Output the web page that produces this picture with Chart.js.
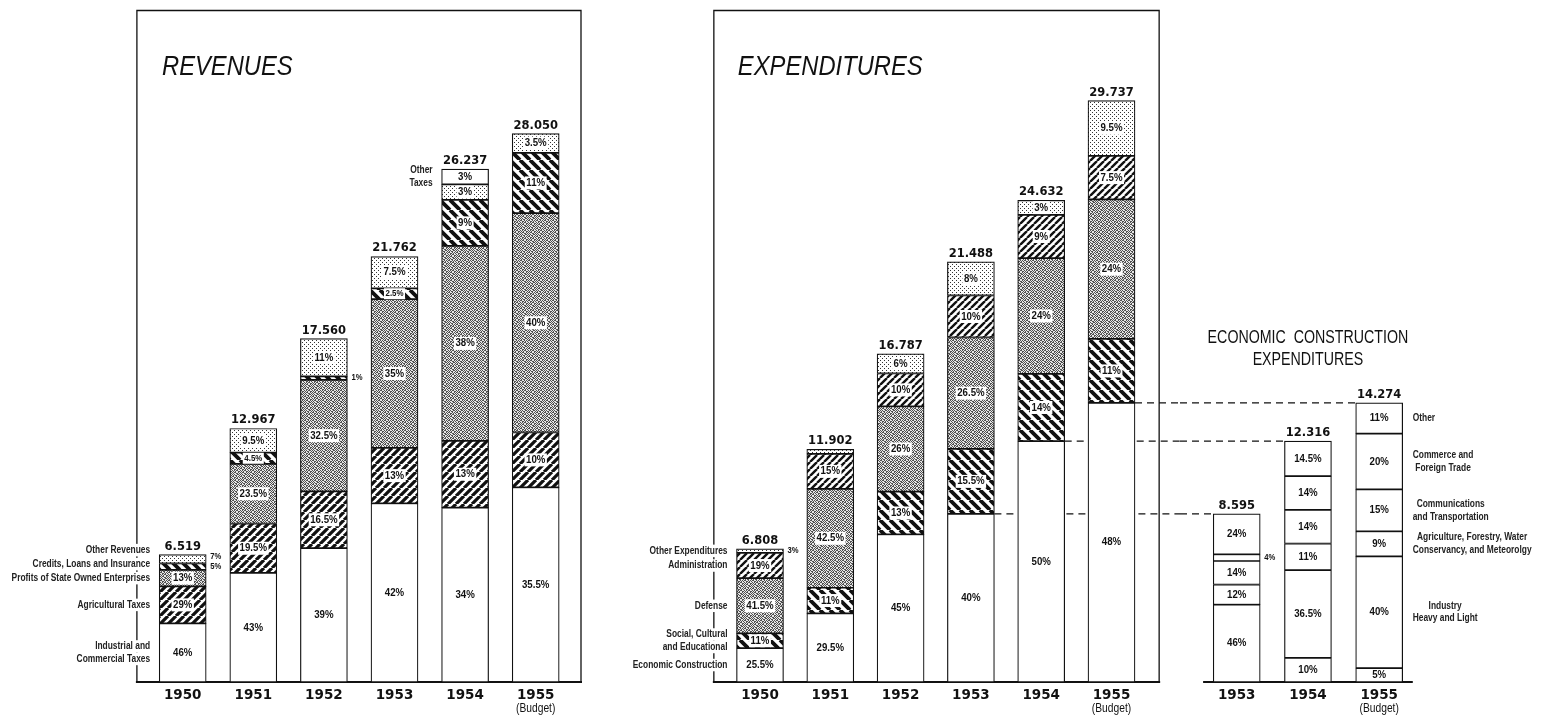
<!DOCTYPE html>
<html>
<head>
<meta charset="utf-8">
<script src="https://cdn.jsdelivr.net/npm/chart.js@4.4.1/dist/chart.umd.min.js"></script>
<style>
  body { margin: 0; background: #fff; width: 1549px; height: 719px; overflow: hidden; position: relative; }
  canvas { position: absolute; top: 0; }
</style>
</head>
<body>
<canvas id="revChart" width="600" height="719" style="left:0"></canvas>
<canvas id="expChart" width="580" height="719" style="left:600px"></canvas>
<canvas id="econChart" width="369" height="719" style="left:1180px"></canvas>
<script>
// Revenues (billion yuan) and shares in percent, bottom to top
const revYears = ['1950', '1951', '1952', '1953', '1954', '1955'];
const revNotes = ['', '', '', '', '', '(Budget)'];
const revTotals = [6.519, 12.967, 17.560, 21.762, 26.237, 28.050];
const revIndustrial = [46, 43.0, 39, 42, 34, 35.5];
const revAgricultural = [29, 19.5, 16.5, 13, 13, 10];
const revProfits = [13, 23.5, 32.5, 35, 38, 40];
const revCredits = [5, 4.5, 1, 2.5, 9, 11];
const revOther = [7, 9.5, 11, 7.5, 3, 3.5];
const revOtherTaxes = [null, null, null, null, 3, null];

// Expenditures
const expYears = ['1950', '1951', '1952', '1953', '1954', '1955'];
const expNotes = ['', '', '', '', '', '(Budget)'];
const expTotals = [6.808, 11.902, 16.787, 21.488, 24.632, 29.737];
const expEconomic = [25.5, 29.5, 45, 40, 50, 48];
const expSocial = [11, 11, 13, 15.5, 14, 11];
const expDefense = [41.5, 42.5, 26, 26.5, 24, 24];
const expAdmin = [19, 15, 10, 10, 9, 7.5];
const expOther = [3, 2, 6, 8, 3, 9.5];

// Economic construction expenditures
const econYears = ['1953', '1954', '1955'];
const econNotes = ['', '', '(Budget)'];
const econTotals = [8.595, 12.316, 14.274];
const econBase = [null, 10, 5];
const econIndustry = [46, 36.5, 40];
const econAgriculture = [12, 11, 9];
const econCommunications = [14, 14, 15];
const econCommerce = [4, 14, 20];
const econOtherShare = [24, 14.5, 11];

const Y_MAX = 34.37;
const COND = '"Liberation Sans", Arial, sans-serif';
const WIDE = '"DejaVu Sans", sans-serif';

// fill patterns
function pattern(w, h, draw) {
  const c = document.createElement('canvas');
  c.width = w; c.height = h;
  const g = c.getContext('2d');
  g.fillStyle = '#fff';
  g.fillRect(0, 0, w, h);
  draw(g, w, h);
  return g.createPattern(c, 'repeat');
}
const hatch = (size, lw, back) => pattern(size, size, (g, s) => {
  g.strokeStyle = '#111';
  g.lineWidth = lw;
  g.beginPath();
  for (let k = -1; k <= 1; k++) {
    if (back) { g.moveTo(k * s, 0); g.lineTo(k * s + s, s); }
    else { g.moveTo(k * s, s); g.lineTo(k * s + s, 0); }
  }
  g.stroke();
});
const GREY_BITS = ['10110010', '01001101', '10100110', '01011001',
                   '11001010', '00110101', '10101100', '01010011'];
const GREY = pattern(8, 8, g => {
  g.fillStyle = '#e6e6e6'; g.fillRect(0, 0, 8, 8);
  g.fillStyle = '#505050';
  GREY_BITS.forEach((row, y) => [...row].forEach((b, x) => { if (b === '1') g.fillRect(x, y, 1, 1); }));
});
const DOTS = pattern(4, 4, g => {
  g.fillStyle = '#333';
  g.fillRect(0, 0, 1, 1);
  g.fillRect(2, 2, 1, 1);
});
const WHITE = '#ffffff';
const HEAVY_SLASH = hatch(8, 3.2, false);
const HEAVY_BACK = hatch(10, 3.8, true);
const LIGHT_SLASH = hatch(7, 2.4, false);

function drawText(ctx, text, x, y, o) {
  ctx.save();
  ctx.font = o.font;
  ctx.textBaseline = 'middle';
  ctx.textAlign = 'left';
  const sx = o.sx || 1;
  const w = ctx.measureText(text).width * sx;
  const left = o.align === 'right' ? x - w : o.align === 'center' ? x - w / 2 : x;
  if (o.box) {
    ctx.fillStyle = '#fff';
    ctx.fillRect(left - 1.5, y - o.size / 2 - 1, w + 3, o.size + 2);
  }
  ctx.fillStyle = o.color || '#111';
  ctx.translate(left, y);
  ctx.scale(sx, 1);
  ctx.fillText(text, 0, 0);
  ctx.restore();
  return w;
}

function stackSets(totals, series) {
  return series.map(s => ({
    label: s.name,
    data: totals.map((t, i) => s.pct[i] == null ? null : t * s.pct[i] / 100),
    pct: s.pct,
    tag: s.tag,
    hide: s.hide || [],
    boxed: s.fill !== WHITE,
    backgroundColor: s.fill,
    borderColor: '#111',
    borderWidth: 1.2,
    borderSkipped: false,
    barThickness: 47
  }));
}

function paperPlugin(cfg) {
  return {
    id: 'paper',
    beforeDatasetsDraw(chart) {
      const ctx = chart.ctx, a = chart.chartArea;
      ctx.save();
      ctx.strokeStyle = '#111';
      let axL = a.left + 2, axR = a.right - 2;
      if (cfg.frame) {
        const fl = a.left - cfg.frame.left, fr = a.right + cfg.frame.right, ft = cfg.frame.top;
        ctx.lineWidth = 1.3;
        ctx.beginPath();
        ctx.moveTo(fl, a.bottom); ctx.lineTo(fl, ft); ctx.lineTo(fr, ft); ctx.lineTo(fr, a.bottom);
        ctx.stroke();
        axL = fl - 1; axR = fr + 1;
      }
      ctx.lineWidth = 2.2;
      ctx.beginPath();
      ctx.moveTo(axL, a.bottom); ctx.lineTo(axR, a.bottom);
      ctx.stroke();
      if (cfg.links) {
        const meta = chart.getDatasetMeta(0);
        ctx.lineWidth = 1.2;
        ctx.setLineDash([7, 5]);
        cfg.links.indices.forEach((i, k) => {
          const el = meta.data[i];
          const yy = chart.scales.y.getPixelForValue(cfg.links.values[k]);
          const x0 = cfg.links.toRight ? el.x + el.width / 2 : 0;
          const x1 = cfg.links.toRight ? chart.width : el.x - el.width / 2;
          ctx.beginPath(); ctx.moveTo(x0, yy); ctx.lineTo(x1, yy); ctx.stroke();
        });
      }
      ctx.restore();
    },
    afterDatasetsDraw(chart) {
      const ctx = chart.ctx, a = chart.chartArea;
      const xs = chart.scales.x, ys = chart.scales.y;
      const outsideY = chart.data.labels.map(() => Infinity);
      const lastTag = {};
      chart.data.datasets.forEach((ds, d) => {
        const meta = chart.getDatasetMeta(d);
        meta.data.forEach((el, i) => {
          const p = ds.pct[i];
          if (p == null || ds.hide.includes(i)) return;
          const h = el.base - el.y;
          const cy = (el.y + el.base) / 2;
          if (h >= 10) {
            const size = h < 13 ? 9 : 11;
            drawText(ctx, p + '%', el.x, cy, { font: 'bold ' + size + 'px ' + COND, size, sx: 0.88, align: 'center', box: ds.boxed });
          } else {
            const yy = Math.min(cy, outsideY[i] - 10);
            outsideY[i] = yy;
            drawText(ctx, p + '%', el.x + el.width / 2 + 4, yy, { font: 'bold 8.5px ' + COND, size: 8.5, sx: 0.9, align: 'left' });
          }
        });
        if (ds.tag) {
          const t = ds.tag, el = meta.data[t.at];
          const key = t.side + t.at;
          const prev = lastTag[key];
          let y = (el.y + el.base) / 2;
          if (prev) y = Math.min(y, prev.y - 14 - 6.25 * (prev.n - 1) - 6.25 * (t.lines.length - 1));
          lastTag[key] = { y, n: t.lines.length };
          const font = 'bold 10.5px ' + COND;
          ctx.font = font;
          const widths = t.lines.map(s => ctx.measureText(s).width * 0.8);
          const maxW = Math.max(...widths);
          t.lines.forEach((s, k) => {
            const ly = y + (k - (t.lines.length - 1) / 2) * 12.5;
            if (t.side === 'left') {
              drawText(ctx, s, el.x - el.width / 2 - 9, ly, { font, size: 10.5, sx: 0.8, align: 'right', box: true, color: '#222' });
            } else {
              drawText(ctx, s, el.x + el.width / 2 + 10 + maxW / 2, ly, { font, size: 10.5, sx: 0.8, align: 'center', color: '#222' });
            }
          });
        }
      });
      // totals above bars
      cfg.totals.forEach((v, i) => {
        const top = ys.getPixelForValue(v);
        drawText(ctx, v.toFixed(3), xs.getPixelForValue(i), top - 8, { font: 'bold 11.5px ' + WIDE, size: 11.5, align: 'center' });
      });
      // notes under tick labels
      cfg.notes.forEach((s, i) => {
        if (s) drawText(ctx, s, xs.getPixelForValue(i), a.bottom + 27, { font: '12.5px ' + COND, size: 12.5, sx: 0.82, align: 'center' });
      });
      // title
      const tt = cfg.title;
      tt.lines.forEach((s, k) => {
        const x = tt.center ? (a.left + a.right) / 2 : a.left + tt.dx;
        drawText(ctx, s, x, tt.y + k * tt.lh, { font: tt.font, size: 20, sx: tt.sx, align: tt.center ? 'center' : 'left' });
      });
    }
  };
}

function makeChart(id, labels, totals, series, pad, cfg) {
  return new Chart(document.getElementById(id), {
    type: 'bar',
    data: { labels, datasets: stackSets(totals, series) },
    options: {
      responsive: false,
      animation: false,
      devicePixelRatio: 1,
      layout: { padding: { left: pad[0], right: pad[1], top: 10, bottom: 0 } },
      plugins: { legend: { display: false }, tooltip: { enabled: false } },
      scales: {
        x: {
          stacked: true,
          offset: true,
          grid: { display: false, drawTicks: false },
          border: { display: false },
          ticks: { color: '#111', font: { family: WIDE, size: 13.5, weight: 'bold' }, padding: 5, maxRotation: 0, autoSkip: false },
          afterFit: s => { s.height = 37; }
        },
        y: { stacked: true, display: false, min: 0, max: Y_MAX }
      }
    },
    plugins: [paperPlugin(Object.assign({ totals }, cfg))]
  });
}

makeChart('revChart', revYears, revTotals, [
  { name: 'Industrial and Commercial Taxes', pct: revIndustrial, fill: WHITE, tag: { at: 0, side: 'left', lines: ['Industrial and', 'Commercial Taxes'] } },
  { name: 'Agricultural Taxes', pct: revAgricultural, fill: HEAVY_SLASH, tag: { at: 0, side: 'left', lines: ['Agricultural Taxes'] } },
  { name: 'Profits of State Owned Enterprises', pct: revProfits, fill: GREY, tag: { at: 0, side: 'left', lines: ['Profits of State Owned Enterprises'] } },
  { name: 'Credits, Loans and Insurance', pct: revCredits, fill: HEAVY_BACK, tag: { at: 0, side: 'left', lines: ['Credits, Loans and Insurance'] } },
  { name: 'Other Revenues', pct: revOther, fill: DOTS, tag: { at: 0, side: 'left', lines: ['Other Revenues'] } },
  { name: 'Other Taxes', pct: revOtherTaxes, fill: WHITE, tag: { at: 4, side: 'left', lines: ['Other', 'Taxes'] } }
], [147.4, 29], {
  notes: revNotes,
  frame: { left: 10.5, right: 10, top: 10.5 },
  title: { lines: ['REVENUES'], font: 'italic 27px ' + COND, sx: 0.88, dx: 14.6, y: 67, lh: 22 }
});

makeChart('expChart', expYears, expTotals, [
  { name: 'Economic Construction', pct: expEconomic, fill: WHITE, tag: { at: 0, side: 'left', lines: ['Economic Construction'] } },
  { name: 'Social, Cultural and Educational', pct: expSocial, fill: HEAVY_BACK, tag: { at: 0, side: 'left', lines: ['Social, Cultural', 'and Educational'] } },
  { name: 'Defense', pct: expDefense, fill: GREY, tag: { at: 0, side: 'left', lines: ['Defense'] } },
  { name: 'Administration', pct: expAdmin, fill: LIGHT_SLASH, tag: { at: 0, side: 'left', lines: ['Administration'] } },
  { name: 'Other Expenditures', pct: expOther, fill: DOTS, hide: [1], tag: { at: 0, side: 'left', lines: ['Other Expenditures'] } }
], [124.85, 33.35], {
  notes: expNotes,
  frame: { left: 11, right: 12.5, top: 10.5 },
  links: { toRight: true, indices: [3, 4, 5], values: [3, 4, 5].map(i => expTotals[i] * expEconomic[i] / 100) },
  title: { lines: ['EXPENDITURES'], font: 'italic 27px ' + COND, sx: 0.88, dx: 13, y: 67, lh: 22 }
});

makeChart('econChart', econYears, econTotals, [
  { name: 'Other Construction', pct: econBase, fill: WHITE },
  { name: 'Industry', pct: econIndustry, fill: WHITE, tag: { at: 2, side: 'right', lines: ['Industry', 'Heavy and Light'] } },
  { name: 'Agriculture, Forestry, Water Conservancy, and Meteorology', pct: econAgriculture, fill: WHITE, tag: { at: 2, side: 'right', lines: ['Agriculture, Forestry, Water', 'Conservancy, and Meteorolgy'] } },
  { name: 'Communications and Transportation', pct: econCommunications, fill: WHITE, tag: { at: 2, side: 'right', lines: ['Communications', 'and Transportation'] } },
  { name: 'Commerce and Foreign Trade', pct: econCommerce, fill: WHITE, tag: { at: 2, side: 'right', lines: ['Commerce and', 'Foreign Trade'] } },
  { name: 'Other', pct: econOtherShare, fill: WHITE, tag: { at: 2, side: 'right', lines: ['Other'] } }
], [21.1, 134.2], {
  notes: econNotes,
  frame: null,
  links: { toRight: false, indices: [0, 1, 2], values: econTotals },
  title: { lines: ['ECONOMIC  CONSTRUCTION', 'EXPENDITURES'], font: '18px ' + COND, sx: 0.79, center: true, y: 338, lh: 22 }
});
</script>
</body>
</html>
